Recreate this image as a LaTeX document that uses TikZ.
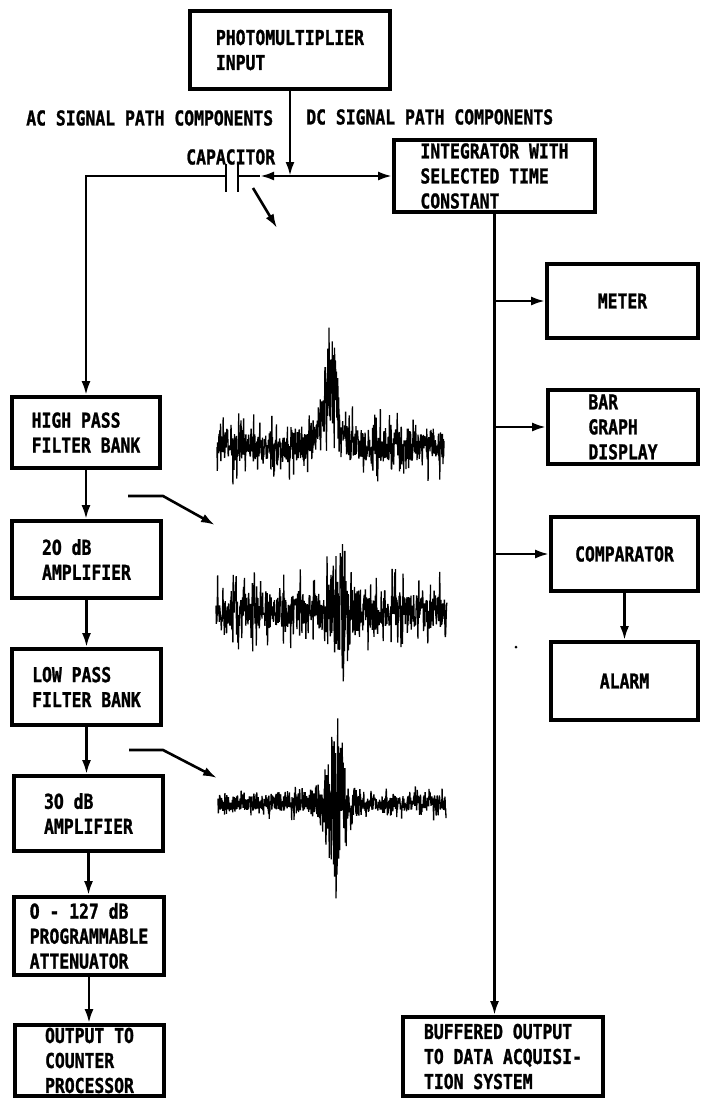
\documentclass[tikz,border=0pt]{standalone}
\usepackage{fontspec}
\newfontfamily\blkfont{DejaVu Sans Mono}[FakeStretch=0.8, BoldFeatures={FakeBold=1.2}]
\newfontfamily\digfont{DejaVu Sans}[FakeStretch=0.69, BoldFeatures={FakeBold=1.2}]
\newcommand{\zr}{{\digfont 0}}
\usetikzlibrary{positioning}
\usetikzlibrary{calc}
\usetikzlibrary{arrows.meta}

\tikzset{
  txt/.style={font=\blkfont\bfseries\fontsize{20.5}{25}\selectfont, align=left, inner sep=0pt},
  blk/.style={txt, draw, line width=3.8pt, minimum width=149pt, minimum height=75pt},
  wave/.style={line width=1.3pt, line join=bevel},
}

\begin{document}
\begin{tikzpicture}[x=1pt,y=-1pt,>={Latex[length=14pt,width=9pt]},line width=2.6pt]
\useasboundingbox (0,0) rectangle (702,1100);

% input, integrator and labels
\node[blk, minimum width=200pt, minimum height=78pt] (pm) at (290,50) {PHOTOMULTIPLIER\\INPUT};
\node[blk, minimum width=201pt, minimum height=72pt] (integ) at (494.5,176) {INTEGRATOR WITH\\SELECTED TIME\\CONSTANT};
\node[txt, anchor=west] (ac) at (25,118) {AC SIGNAL PATH COMPONENTS};
\node[txt, anchor=west] (dc) at (305,117) {DC SIGNAL PATH COMPONENTS};
\node[txt, anchor=west] (caplbl) at (185,157) {CAPACITOR};

% AC path
\node[blk, minimum width=148pt, minimum height=71pt] (hp) at (86,432.5) {HIGH PASS\\FILTER BANK};
\node[blk, minimum height=77pt] (amp20) at (86.5,559.5) {2\zr{} dB\\AMPLIFIER};
\node[blk, minimum height=76pt] (lp) at (86.5,687) {LOW PASS\\FILTER BANK};
\node[blk] (amp30) at (88.5,813.5) {3\zr{} dB\\AMPLIFIER};
\node[blk, minimum width=150pt, minimum height=78pt] (att) at (89,936) {\zr{} - 127 dB\\PROGRAMMABLE\\ATTENUATOR};
\node[blk, minimum height=71pt] (out) at (89.5,1060.5) {OUTPUT TO\\COUNTER\\PROCESSOR};

% DC path
\node[blk, minimum width=151pt, minimum height=74pt] (meter) at (622.5,301) {METER};
\node[blk, minimum width=150pt, minimum height=74pt] (bar) at (623,427) {BAR\\GRAPH\\DISPLAY};
\node[blk, minimum width=147pt, minimum height=74pt] (comp) at (624.5,554) {COMPARATOR};
\node[blk, minimum width=147pt, minimum height=78pt] (alarm) at (624.5,681) {ALARM};
\node[blk, minimum width=200pt, minimum height=79pt] (buf) at (503,1056.5) {BUFFERED OUTPUT\\TO DATA ACQUISI-\\TION SYSTEM};

% capacitor
\coordinate (jn) at (290,176);
\coordinate (capl) at (226,176);
\coordinate (capr) at (238,176);
\coordinate (captip) at (260,176);
\draw (226,164) -- (226,192);
\draw (238,164) -- (238,192);
\draw[->] (pm) -- (jn);
\draw[->] (jn) -- (jn -| integ.west);
\draw[->] (jn) -- (captip);
\draw (capr) -- (captip);
\draw[->] (capl) -| (hp);

% chain on the left
\draw[->] (hp) -- (hp |- amp20.north);
\draw[->] (amp20) -- (amp20 |- lp.north);
\draw[->] (lp) -- (lp |- amp30.north);
\draw[->] (amp30) -- (amp30 |- att.north);
\draw[->] (att) -- (att |- out.north);

% branches on the right
\draw[->] (integ) -- (integ |- buf.north);
\foreach \b in {meter,bar,comp}
  \draw[->] (integ |- \b) -- (\b);
\draw[->] (comp) -- (comp |- alarm.north);

% pointers to the waveforms
\coordinate (p0a) at (253,188);
\coordinate (p0b) at (277,228);
\draw[->] (p0a) -- (p0b);
\coordinate (p1a) at (128,496);
\coordinate (p1b) at (163,496);
\coordinate (p1c) at (215,525);
\draw[->] (p1a) -- (p1b) -- (p1c);
\coordinate (p2a) at (129,750);
\coordinate (p2b) at (163,750);
\coordinate (p2c) at (217,778);
\draw[->] (p2a) -- (p2b) -- (p2c);

% waveforms
\pgfmathsetseed{42}
\draw[wave] plot[domain=217:444, samples=700]
  (\x, {446 + 22*rand*(0.6+1.3*rnd^4) - 135*rnd*(1/(1+((\x-330)/11)^2))^2});
\draw[wave] plot[domain=216:447, samples=700]
  (\x, {612 + 25*rand*(0.6+1.3*rnd^4) + 72*rand*(1/(1+((\x-338)/16)^2))^2});
\draw[wave] plot[domain=218:446, samples=700]
  (\x, {803 + 11*rand*(0.6+1.2*rnd^4) + 82*rand*(1/(1+((\x-336)/16)^2))^2});
\fill (516,647) circle (1.5);

\end{tikzpicture}
\end{document}
